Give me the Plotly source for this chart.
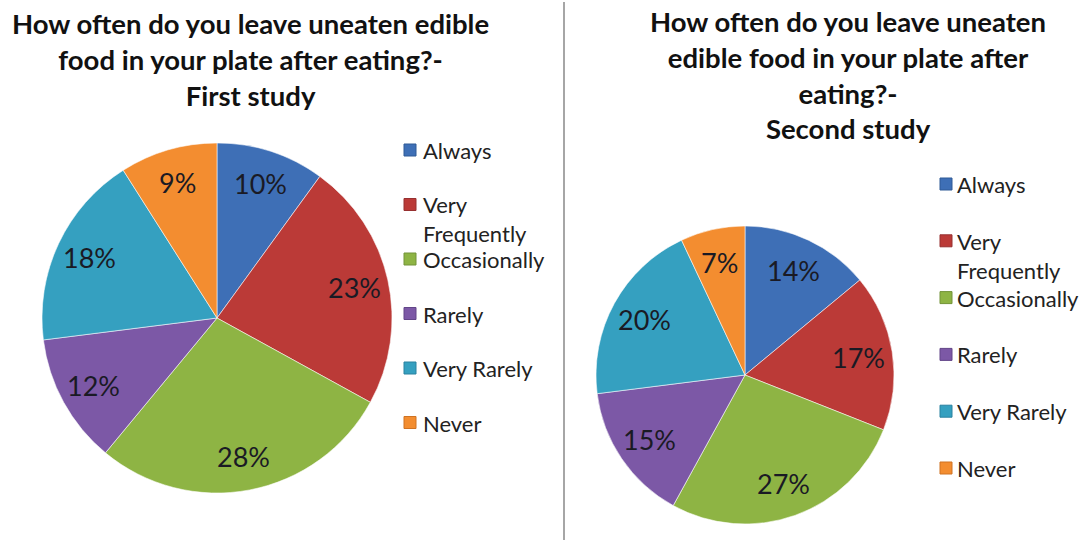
import math
import plotly.graph_objects as go

W, H = 1085, 540

categories = ["Always", "Very Frequently", "Occasionally", "Rarely", "Very Rarely", "Never"]
legend_labels = ["Always", "Very<br>Frequently", "Occasionally", "Rarely", "Very Rarely", "Never"]
first_study = [10, 23, 28, 12, 18, 9]
second_study = [14, 17, 27, 15, 20, 7]
colors = ["#3E6FB6", "#BB3A37", "#8EB444", "#7C58A6", "#35A0C0", "#F38D30"]
edge_colors = ["#2F5A96", "#963030", "#729338", "#624588", "#2A82A0", "#CF7222"]

title_1 = "How often do you leave uneaten edible<br>food in your plate after eating?-<br>First study"
title_2 = "How often do you leave uneaten<br>edible food in your plate after<br>eating?-<br>Second study"

FONT = "Lato, Carlito, Calibri, sans-serif"


def px_x(x):
    return x / W


def px_y(y):
    return 1 - y / H


annotations = []
shapes = []


def pie(values, cx, cy, r):
    # percentage labels sit a fixed distance in from the rim, at each slice's mid-angle
    total = sum(values)
    acc = 0
    for v in values:
        mid = (acc + v / 2) / total * 2 * math.pi
        acc += v
        d = r - 34
        annotations.append(dict(
            text=f"{v}%", x=px_x(cx + d * math.sin(mid)), y=px_y(cy - d * math.cos(mid)),
            xref="paper", yref="paper", xanchor="center", yanchor="middle",
            showarrow=False, font=dict(family=FONT, size=27, color="#1a1a24"),
        ))
    return go.Pie(
        labels=categories,
        values=values,
        sort=False,
        direction="clockwise",
        rotation=0,
        marker=dict(colors=colors, line=dict(color="rgba(255,255,255,0.55)", width=1)),
        textinfo="none",
        hoverinfo="label+percent",
        showlegend=False,
        domain=dict(x=[px_x(cx - r), px_x(cx + r)], y=[px_y(cy + r), px_y(cy - r)]),
    )


fig = go.Figure()
fig.add_trace(pie(first_study, 217, 318, 175))
fig.add_trace(pie(second_study, 745, 375, 149))

# chart titles
for text, cx, top in [(title_1, 250, 5), (title_2, 848, 3)]:
    annotations.append(dict(
        text=text, x=px_x(cx), y=px_y(top), xref="paper", yref="paper",
        xanchor="center", yanchor="top", showarrow=False, align="center",
        font=dict(family=FONT, size=27.5, color="#111111", weight="bold"),
    ))


# legends: coloured square + label per category
def legend(x_mark, x_text, y0, step):
    for i, (lab, col, edge) in enumerate(zip(legend_labels, colors, edge_colors)):
        y = y0 + i * step
        shapes.append(dict(
            type="rect", xref="paper", yref="paper",
            x0=px_x(x_mark - 6), x1=px_x(x_mark + 6),
            y0=px_y(y + 6), y1=px_y(y - 6),
            fillcolor=col, line=dict(color=edge, width=1),
        ))
        annotations.append(dict(
            text=lab, x=px_x(x_text), y=px_y(y - 15), xref="paper", yref="paper",
            xanchor="left", yanchor="top", showarrow=False, align="left",
            font=dict(family=FONT, size=22, color="#222222"),
        ))


legend(410, 421, 150, 54.5)
legend(946, 955, 184, 56.8)

# divider between the two charts
shapes.append(dict(
    type="line", xref="paper", yref="paper",
    x0=px_x(564), x1=px_x(564), y0=0, y1=px_y(2),
    line=dict(color="#A6A6A6", width=2),
))

fig.update_layout(
    width=W, height=H,
    margin=dict(l=0, r=0, t=0, b=0),
    paper_bgcolor="white",
    plot_bgcolor="white",
    annotations=annotations,
    shapes=shapes,
)

fig.write_html("out.html")
